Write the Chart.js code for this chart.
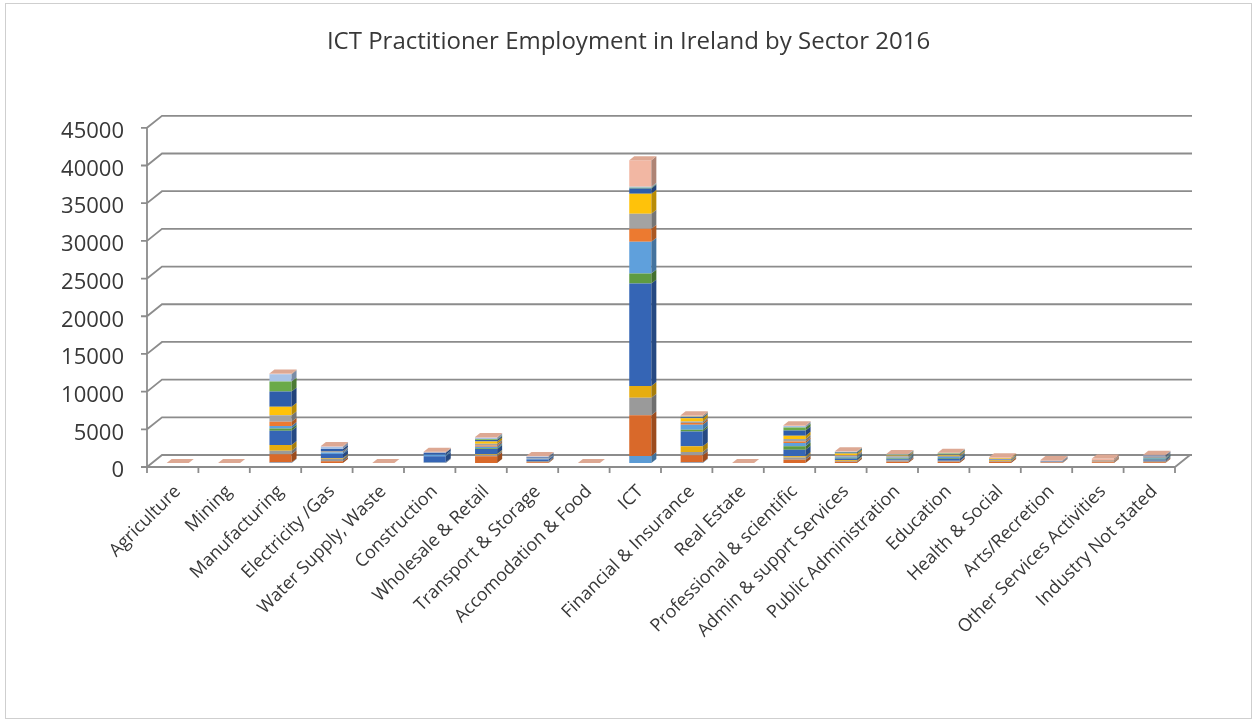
<!DOCTYPE html>
<html>
<head>
<meta charset="utf-8">
<script src="https://cdn.jsdelivr.net/npm/chart.js@4.4.1/dist/chart.umd.min.js"></script>
<style>
  html, body { margin: 0; padding: 0; background: #fff; }
  #wrap { position: relative; width: 1257px; height: 723px; }
  #frame { position: absolute; left: 5px; top: 3px; width: 1245px; height: 714px; border: 1px solid #cfcfcf; pointer-events: none; }
  canvas { position: absolute; left: 0; top: 0; }
</style>
</head>
<body>
<div id="wrap">
  <canvas id="chart" width="1257" height="723"></canvas>
  <div id="frame"></div>
</div>
<script>
const sectors = ['Agriculture', 'Mining', 'Manufacturing', 'Electricity /Gas', 'Water Supply, Waste',
    'Construction', 'Wholesale & Retail', 'Transport & Storage', 'Accomodation & Food', 'ICT',
    'Financial & Insurance', 'Real Estate', 'Professional & scientific', 'Admin & supprt Services',
    'Public Administration', 'Education', 'Health & Social', 'Arts/Recretion',
    'Other Services Activities', 'Industry Not stated'];

const yTicks = [0, 5000, 10000, 15000, 20000, 25000, 30000, 35000, 40000, 45000];

// one array per occupation group, one value per sector
const s1  = [0, 0, 50, 0, 0, 50, 0, 0, 0, 925, 60, 0, 0, 0, 0, 0, 0, 0, 0, 0];
const s2  = [0, 0, 1100, 220, 0, 50, 880, 100, 0, 5400, 970, 0, 440, 150, 150, 150, 150, 80, 100, 100];
const s3  = [0, 0, 480, 350, 0, 0, 220, 150, 0, 2340, 440, 0, 300, 100, 200, 150, 100, 80, 100, 200];
const s4  = [0, 0, 750, 100, 0, 0, 100, 0, 0, 1550, 750, 0, 150, 100, 0, 0, 100, 0, 0, 0];
const s5  = [0, 0, 1900, 530, 0, 800, 660, 200, 0, 13600, 1950, 0, 880, 250, 150, 250, 100, 80, 0, 150];
const s6  = [0, 0, 300, 0, 0, 0, 100, 0, 0, 1320, 230, 0, 440, 100, 100, 100, 0, 0, 0, 100];
const s7  = [0, 0, 320, 200, 0, 200, 200, 100, 0, 4230, 660, 0, 440, 150, 100, 150, 0, 0, 0, 100];
const s8  = [0, 0, 570, 0, 0, 0, 150, 0, 0, 1720, 250, 0, 200, 100, 0, 0, 0, 0, 100, 0];
const s9  = [0, 0, 880, 200, 0, 0, 230, 150, 0, 1980, 200, 0, 350, 100, 200, 150, 100, 60, 100, 200];
const s10 = [0, 0, 1100, 0, 0, 0, 300, 0, 0, 2640, 440, 0, 400, 200, 100, 150, 100, 0, 0, 0];
const s11 = [0, 0, 2030, 250, 0, 250, 220, 100, 0, 700, 120, 0, 700, 150, 50, 100, 0, 0, 0, 100];
const s12 = [0, 0, 1320, 0, 0, 0, 100, 0, 0, 100, 50, 0, 400, 50, 50, 50, 0, 0, 0, 0];
const s13 = [0, 0, 970, 300, 0, 50, 200, 75, 0, 150, 60, 0, 200, 50, 50, 50, 0, 0, 0, 50];
const s14 = [0, 0, 100, 100, 0, 100, 80, 50, 0, 3500, 150, 0, 120, 50, 50, 50, 100, 100, 200, 100];

const series = [s1, s2, s3, s4, s5, s6, s7, s8, s9, s10, s11, s12, s13, s14];
const colors = ['#5B9BD5', '#D9692A', '#9A9A9A', '#E6AD10', '#3565B5', '#5E9B41', '#5FA0DC',
    '#EC7A30', '#A3A3A3', '#FFC20A', '#2F5DAA', '#6AAA48', '#A9C3E6', '#F2B7A3'];

const topColor = '#DDA893';
const lineColor = '#8c8c8c';
const textColor = '#383838';

function shade(hex, f) {
    const n = parseInt(hex.slice(1), 16);
    const r = Math.round(((n >> 16) & 255) * f);
    const g = Math.round(((n >> 8) & 255) * f);
    const b = Math.round((n & 255) * f);
    return 'rgb(' + r + ',' + g + ',' + b + ')';
}

// back walls, floor and axis lines of the 3-D frame
const frame3d = {
    id: 'frame3d',
    beforeDatasetsDraw(chart) {
        const ctx = chart.ctx;
        const area = chart.chartArea;
        const ys = chart.scales.y;
        const L = area.left, R = area.right, B = area.bottom;
        ctx.save();
        ctx.strokeStyle = lineColor;
        ctx.lineWidth = 1.8;
        ctx.beginPath();
        yTicks.forEach(v => {
            const py = ys.getPixelForValue(v);
            ctx.moveTo(L - 11, py + 4);
            ctx.lineTo(L - 5, py + 4);
            ctx.lineTo(L + 10, py - 8);
            ctx.lineTo(R + 12, py - 8);
        });
        ctx.moveTo(L - 5, ys.getPixelForValue(45000) + 4);
        ctx.lineTo(L - 5, B + 4);
        ctx.lineTo(R - 5, B + 4);
        ctx.lineTo(R + 10, B - 8);
        const step = (R - L) / sectors.length;
        for (let k = 0; k <= sectors.length; k++) {
            const x = L - 5 + k * step;
            ctx.moveTo(x, B + 4);
            ctx.lineTo(x, B + 10);
        }
        ctx.stroke();
        ctx.restore();
    },
    afterDatasetsDraw(chart) {
        const ctx = chart.ctx;
        const dx = 5, dy = 4;
        ctx.save();
        sectors.forEach((_, i) => {
            let top = null;
            series.forEach((_, d) => {
                const el = chart.getDatasetMeta(d).data[i];
                const p = el.getProps(['x', 'y', 'base', 'width'], true);
                const right = p.x + p.width / 2;
                if (p.base - p.y > 0.3) {
                    ctx.fillStyle = shade(colors[d], 0.72);
                    ctx.beginPath();
                    ctx.moveTo(right, p.y);
                    ctx.lineTo(right + dx, p.y - dy);
                    ctx.lineTo(right + dx, p.base - dy);
                    ctx.lineTo(right, p.base);
                    ctx.closePath();
                    ctx.fill();
                }
                top = p;
            });
            const l = top.x - top.width / 2, r = top.x + top.width / 2;
            ctx.fillStyle = topColor;
            ctx.beginPath();
            ctx.moveTo(l, top.y);
            ctx.lineTo(r, top.y);
            ctx.lineTo(r + dx, top.y - dy);
            ctx.lineTo(l + dx, top.y - dy);
            ctx.closePath();
            ctx.fill();
        });
        ctx.restore();
    }
};

const chart = new Chart(document.getElementById('chart'), {
    type: 'bar',
    data: {
        labels: sectors,
        datasets: series.map((s, d) => ({
            label: 'Series ' + (d + 1),
            data: s,
            backgroundColor: colors[d],
            borderWidth: 0,
            categoryPercentage: 1,
            barPercentage: 0.43
        }))
    },
    options: {
        responsive: false,
        animation: false,
        layout: { padding: 0 },
        plugins: {
            legend: { display: false },
            tooltip: { enabled: false },
            title: {
                display: true,
                text: 'ICT Practitioner Employment in Ireland by Sector 2016',
                color: textColor,
                font: { family: 'Open Sans', size: 24, weight: 'normal' },
                padding: { top: 28, bottom: 67 }
            }
        },
        scales: {
            x: {
                stacked: true,
                grid: { display: false, drawTicks: false },
                border: { display: false },
                ticks: {
                    color: textColor,
                    font: { family: 'Open Sans', size: 18 },
                    minRotation: 45,
                    maxRotation: 45,
                    autoSkip: false,
                    padding: 18
                },
                afterFit(scale) { scale.height = 723 - 463; }
            },
            y: {
                stacked: true,
                min: 0,
                max: 45000,
                grid: { display: false, drawTicks: false },
                border: { display: false },
                ticks: {
                    stepSize: 5000,
                    color: textColor,
                    font: { family: 'Open Sans', size: 22 },
                    padding: 28,
                    labelOffset: 8,
                    callback: v => String(v)
                },
                afterFit(scale) { scale.width = 152; }
            },
            // empty right-hand margin so the title centres over the page
            yRight: {
                position: 'right',
                grid: { display: false, drawTicks: false },
                border: { display: false },
                ticks: { display: false },
                afterFit(scale) { scale.width = 77; }
            }
        }
    },
    plugins: [frame3d]
});
</script>
</body>
</html>
